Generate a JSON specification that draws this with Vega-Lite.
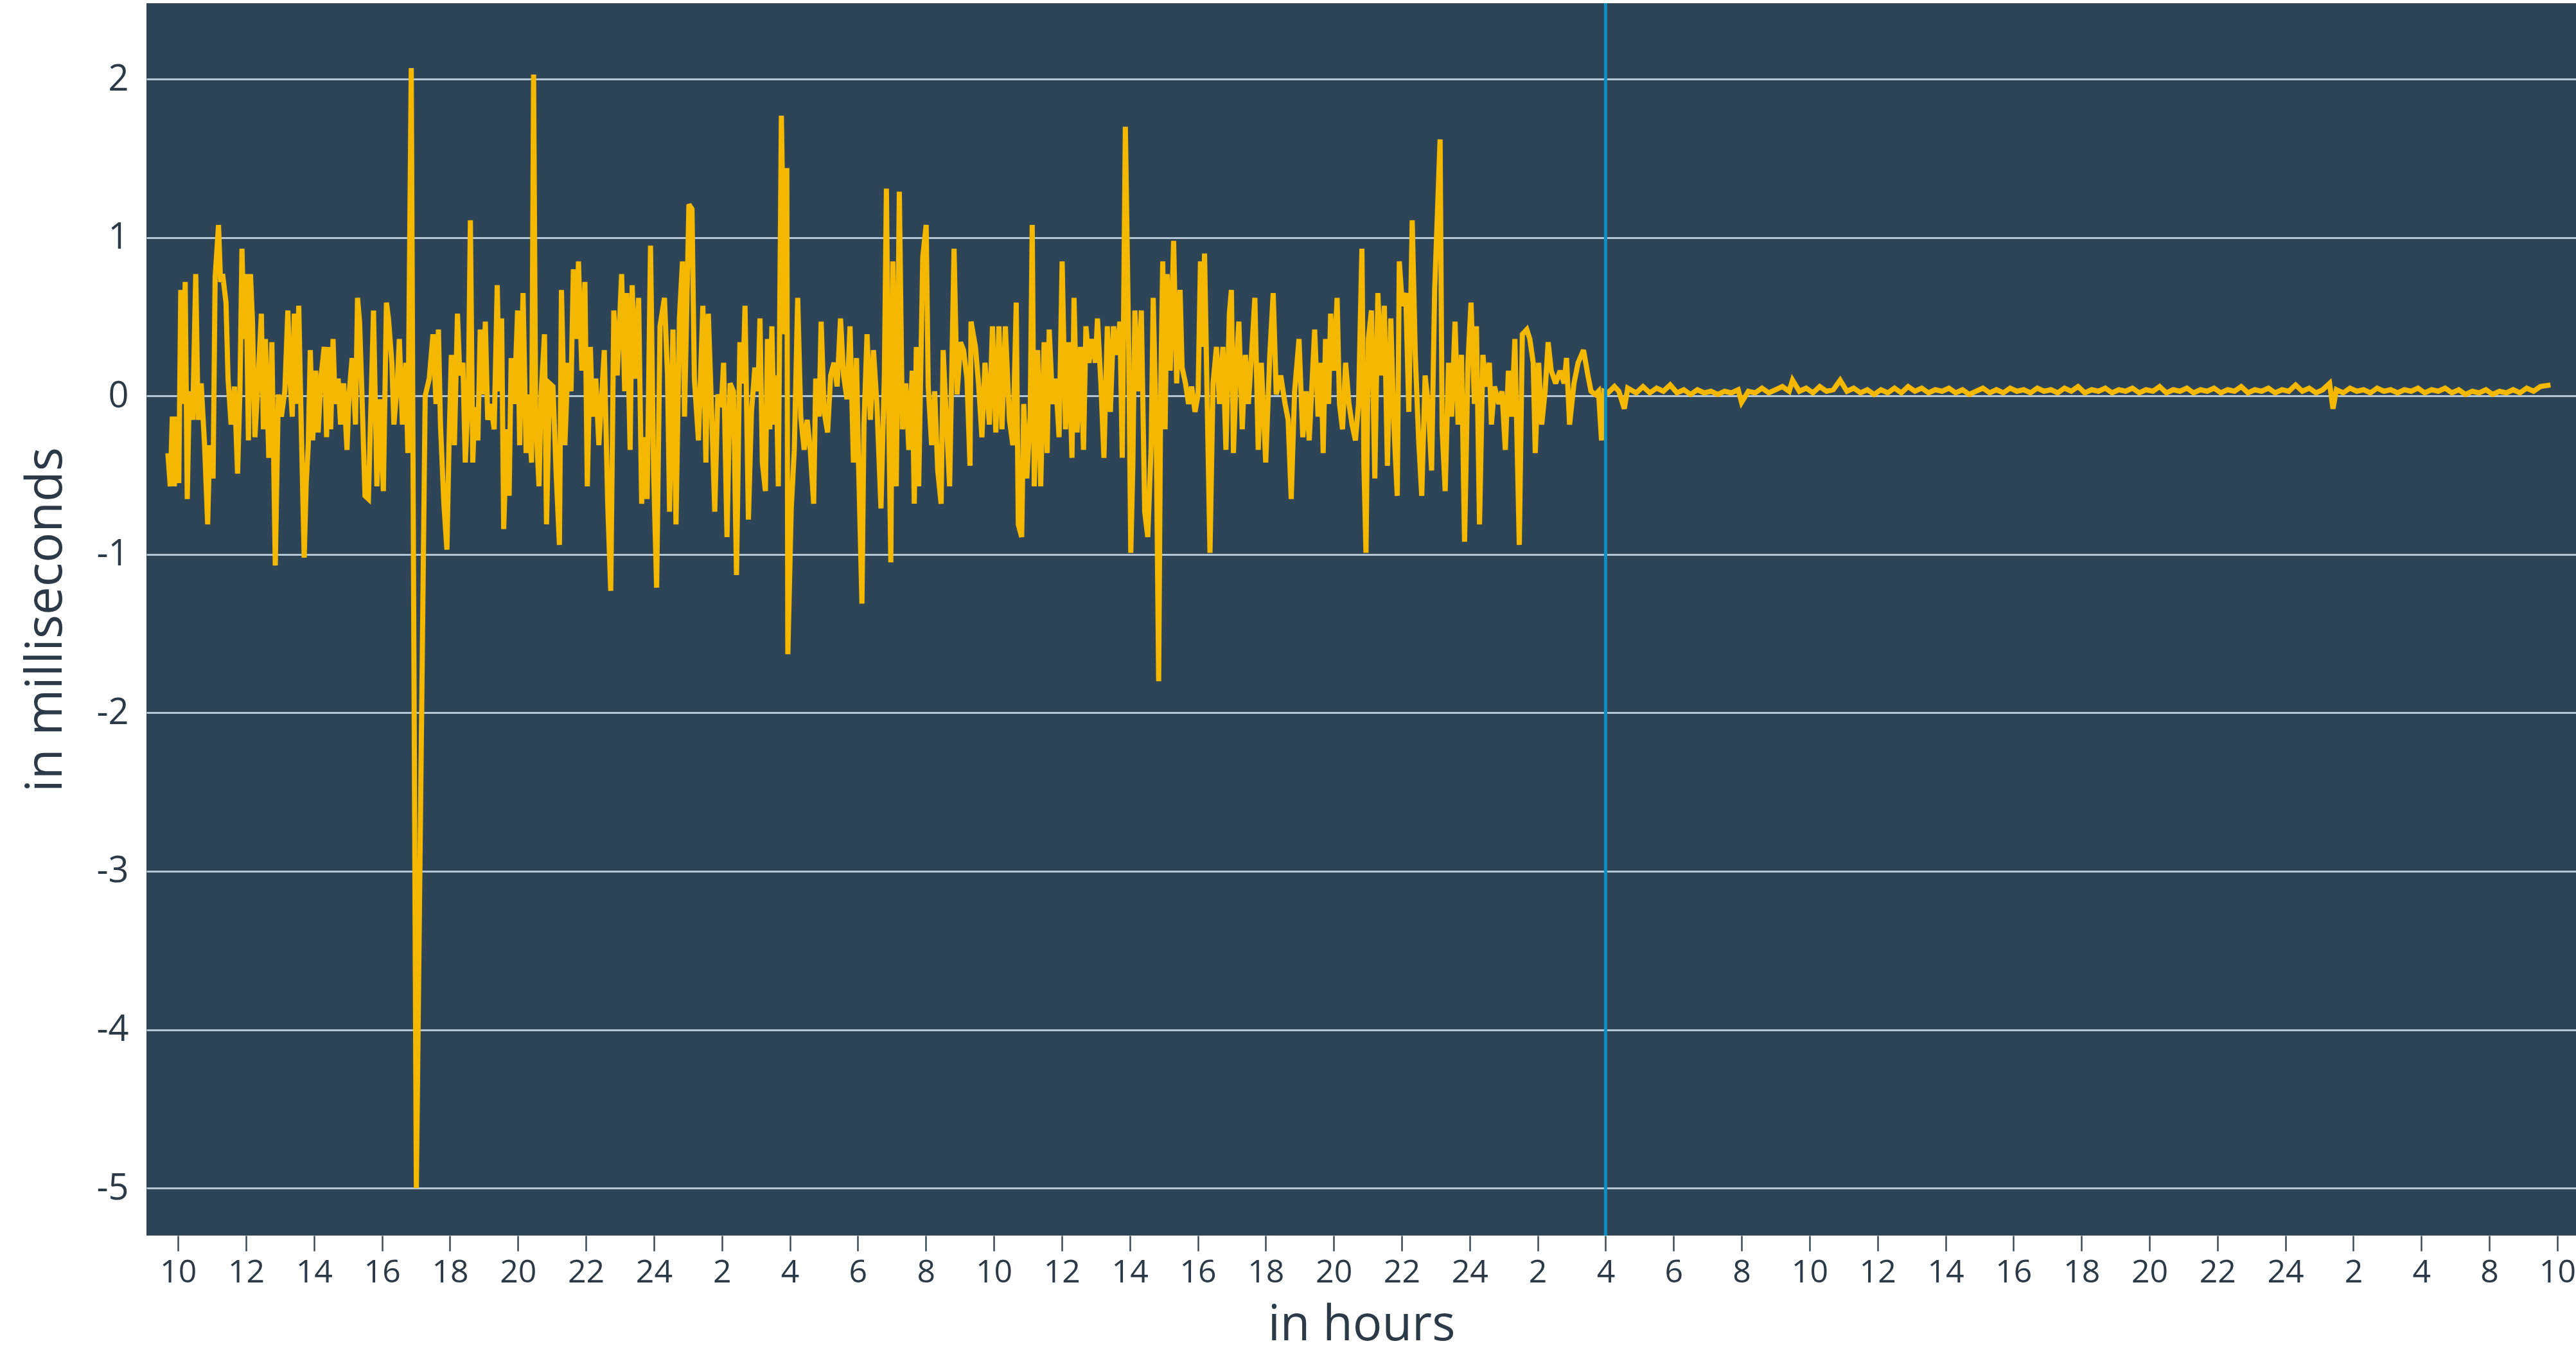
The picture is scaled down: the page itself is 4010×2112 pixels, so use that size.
{
"$schema": "https://vega.github.io/schema/vega-lite/v6.json",
"width": 3782,
"height": 1918,
"autosize": {"type": "none"},
"padding": {"left": 228, "top": 5, "right": 0, "bottom": 189},
"background": "white",
"config": {
"view": {"fill": "#2e4457", "stroke": null},
"font": "Open Sans",
"axis": {"labelColor": "#2c3a47", "titleColor": "#2c3a47", "titleFontWeight": "normal", "labelFont": "Open Sans", "titleFont": "Open Sans"}
},
"datasets": {
"series": [
{"h":-0.30,"v":-0.36},{"h":-0.23,"v":-0.57},{"h":-0.17,"v":-0.13},{"h":-0.11,"v":-0.57},{"h":-0.04,"v":-0.13},{"h":0.02,"v":-0.55},{"h":0.08,"v":0.67},{"h":0.15,"v":-0.05},{"h":0.21,"v":0.72},{"h":0.27,"v":-0.65},{"h":0.33,"v":0.03},{"h":0.43,"v":-0.15},{"h":0.52,"v":0.77},{"h":0.59,"v":-0.15},{"h":0.68,"v":0.08},{"h":0.78,"v":-0.31},{"h":0.87,"v":-0.81},{"h":0.93,"v":-0.31},{"h":1.03,"v":-0.52},{"h":1.09,"v":0.75},{"h":1.19,"v":1.08},{"h":1.25,"v":0.72},{"h":1.31,"v":0.77},{"h":1.41,"v":0.59},{"h":1.47,"v":0.11},{"h":1.56,"v":-0.18},{"h":1.66,"v":0.06},{"h":1.75,"v":-0.49},{"h":1.82,"v":0.03},{"h":1.88,"v":0.93},{"h":1.94,"v":0.36},{"h":2.00,"v":0.77},{"h":2.07,"v":-0.28},{"h":2.13,"v":0.77},{"h":2.19,"v":0.47},{"h":2.26,"v":-0.26},{"h":2.35,"v":0.08},{"h":2.45,"v":0.52},{"h":2.51,"v":-0.21},{"h":2.57,"v":0.36},{"h":2.67,"v":-0.39},{"h":2.76,"v":0.34},{"h":2.86,"v":-1.07},{"h":2.95,"v":0.01},{"h":3.04,"v":-0.13},{"h":3.14,"v":0.03},{"h":3.23,"v":0.54},{"h":3.30,"v":0.08},{"h":3.36,"v":-0.13},{"h":3.42,"v":0.52},{"h":3.49,"v":-0.05},{"h":3.55,"v":0.57},{"h":3.61,"v":-0.05},{"h":3.71,"v":-1.02},{"h":3.77,"v":-0.55},{"h":3.83,"v":-0.31},{"h":3.89,"v":0.29},{"h":3.96,"v":-0.28},{"h":4.05,"v":0.16},{"h":4.12,"v":-0.23},{"h":4.21,"v":0.13},{"h":4.30,"v":0.31},{"h":4.37,"v":-0.26},{"h":4.43,"v":0.31},{"h":4.49,"v":-0.21},{"h":4.56,"v":0.36},{"h":4.62,"v":-0.05},{"h":4.71,"v":0.11},{"h":4.78,"v":-0.18},{"h":4.87,"v":0.08},{"h":4.97,"v":-0.34},{"h":5.03,"v":0.01},{"h":5.12,"v":0.24},{"h":5.22,"v":-0.18},{"h":5.28,"v":0.62},{"h":5.34,"v":0.47},{"h":5.41,"v":0.01},{"h":5.50,"v":-0.63},{"h":5.60,"v":-0.65},{"h":5.69,"v":0.06},{"h":5.75,"v":0.54},{"h":5.85,"v":-0.57},{"h":5.94,"v":-0.02},{"h":6.04,"v":-0.60},{"h":6.13,"v":0.59},{"h":6.19,"v":0.49},{"h":6.29,"v":0.21},{"h":6.35,"v":-0.18},{"h":6.45,"v":0.08},{"h":6.51,"v":0.36},{"h":6.60,"v":-0.18},{"h":6.70,"v":0.21},{"h":6.76,"v":-0.36},{"h":6.86,"v":2.07},{"h":7.01,"v":-5.0},{"h":7.27,"v":0.0},{"h":7.39,"v":0.11},
{"h":7.50,"v":0.39},{"h":7.59,"v":-0.05},{"h":7.66,"v":0.42},{"h":7.72,"v":-0.18},{"h":7.82,"v":-0.68},{"h":7.91,"v":-0.97},{"h":7.97,"v":-0.31},{"h":8.04,"v":0.26},{"h":8.13,"v":-0.31},{"h":8.22,"v":0.52},{"h":8.29,"v":0.13},{"h":8.38,"v":0.21},{"h":8.45,"v":-0.42},{"h":8.54,"v":0.01},{"h":8.60,"v":1.11},{"h":8.67,"v":-0.42},{"h":8.73,"v":-0.07},{"h":8.82,"v":-0.28},{"h":8.89,"v":0.42},{"h":8.98,"v":0.01},{"h":9.04,"v":0.47},{"h":9.11,"v":-0.15},{"h":9.20,"v":-0.05},{"h":9.30,"v":-0.21},{"h":9.39,"v":0.70},{"h":9.45,"v":0.03},{"h":9.52,"v":0.49},{"h":9.58,"v":-0.84},{"h":9.67,"v":-0.21},{"h":9.74,"v":-0.63},{"h":9.80,"v":0.24},{"h":9.89,"v":-0.05},{"h":9.99,"v":0.54},{"h":10.05,"v":-0.31},{"h":10.15,"v":0.65},{"h":10.24,"v":-0.36},{"h":10.30,"v":0.01},{"h":10.40,"v":-0.42},{"h":10.46,"v":2.03},{"h":10.52,"v":-0.13},{"h":10.62,"v":-0.57},{"h":10.68,"v":0.01},{"h":10.78,"v":0.39},{"h":10.84,"v":-0.81},{"h":10.93,"v":0.08},{"h":11.03,"v":0.06},{"h":11.12,"v":-0.47},{"h":11.22,"v":-0.94},{"h":11.28,"v":0.67},{"h":11.38,"v":-0.31},{"h":11.47,"v":0.21},{"h":11.56,"v":0.03},{"h":11.63,"v":0.80},{"h":11.72,"v":0.36},{"h":11.78,"v":0.85},{"h":11.88,"v":0.16},{"h":11.97,"v":0.72},{"h":12.04,"v":-0.57},{"h":12.13,"v":0.31},{"h":12.19,"v":-0.13},{"h":12.29,"v":0.11},{"h":12.38,"v":-0.31},{"h":12.45,"v":-0.05},{"h":12.54,"v":0.29},{"h":12.64,"v":-0.68},{"h":12.73,"v":-1.23},{"h":12.82,"v":0.54},{"h":12.92,"v":0.13},{"h":13.05,"v":0.77},{"h":13.14,"v":0.03},{"h":13.20,"v":0.65},{"h":13.30,"v":-0.34},{"h":13.36,"v":0.70},{"h":13.45,"v":0.11},{"h":13.55,"v":0.62},{"h":13.64,"v":-0.68},{"h":13.71,"v":-0.26},{"h":13.80,"v":-0.65},{"h":13.90,"v":0.95},{"h":13.99,"v":-0.47},{"h":14.08,"v":-1.21},{"h":14.18,"v":0.44},{"h":14.31,"v":0.62},{"h":14.40,"v":0.13},{"h":14.46,"v":-0.73},{"h":14.56,"v":0.42},{"h":14.65,"v":-0.81},{"h":14.75,"v":0.49},{"h":14.84,"v":0.85},{"h":14.90,"v":-0.13},{"h":15.03,"v":1.21},{"h":15.12,"v":1.18},{"h":15.19,"v":0.11},{"h":15.31,"v":-0.28},{"h":15.44,"v":0.57},{"h":15.53,"v":-0.42},{"h":15.60,"v":0.52},{"h":15.69,"v":-0.05},{"h":15.79,"v":-0.73},{"h":15.88,"v":0.01},{"h":15.98,"v":-0.07},
{"h":16.05,"v":0.21},{"h":16.15,"v":-0.89},{"h":16.24,"v":0.08},{"h":16.34,"v":0.03},{"h":16.43,"v":-1.13},{"h":16.53,"v":0.34},{"h":16.62,"v":0.08},{"h":16.68,"v":0.57},{"h":16.78,"v":-0.78},{"h":16.87,"v":-0.10},{"h":16.97,"v":0.18},{"h":17.06,"v":0.03},{"h":17.12,"v":0.49},{"h":17.19,"v":-0.42},{"h":17.28,"v":-0.60},{"h":17.34,"v":0.36},{"h":17.41,"v":-0.21},{"h":17.47,"v":0.44},{"h":17.53,"v":-0.18},{"h":17.60,"v":0.13},{"h":17.66,"v":-0.57},{"h":17.75,"v":1.77},{"h":17.85,"v":0.39},{"h":17.91,"v":1.44},{"h":17.94,"v":-1.63},{"h":18.04,"v":-0.71},{"h":18.13,"v":-0.34},{"h":18.23,"v":0.62},{"h":18.32,"v":-0.13},{"h":18.42,"v":-0.34},{"h":18.51,"v":-0.15},{"h":18.60,"v":-0.34},{"h":18.70,"v":-0.68},{"h":18.76,"v":0.11},{"h":18.86,"v":-0.13},{"h":18.92,"v":0.47},{"h":19.01,"v":-0.10},{"h":19.11,"v":-0.23},{"h":19.20,"v":0.13},{"h":19.30,"v":0.21},{"h":19.39,"v":0.06},{"h":19.49,"v":0.49},{"h":19.58,"v":0.13},{"h":19.68,"v":-0.02},{"h":19.77,"v":0.44},{"h":19.87,"v":-0.42},{"h":19.96,"v":0.24},{"h":20.02,"v":-0.42},{"h":20.12,"v":-1.31},{"h":20.18,"v":-0.18},{"h":20.27,"v":0.39},{"h":20.37,"v":-0.15},{"h":20.46,"v":0.29},{"h":20.56,"v":-0.05},{"h":20.68,"v":-0.71},{"h":20.78,"v":0.13},{"h":20.84,"v":1.31},{"h":20.90,"v":0.01},{"h":20.97,"v":-1.05},{"h":21.03,"v":0.85},{"h":21.13,"v":-0.57},{"h":21.22,"v":1.29},{"h":21.31,"v":-0.21},{"h":21.41,"v":0.08},{"h":21.50,"v":-0.34},{"h":21.60,"v":0.16},{"h":21.66,"v":-0.68},{"h":21.72,"v":0.31},{"h":21.79,"v":-0.57},{"h":21.91,"v":0.88},{"h":22.01,"v":1.08},{"h":22.07,"v":0.06},{"h":22.17,"v":-0.31},{"h":22.26,"v":0.03},{"h":22.35,"v":-0.47},{"h":22.45,"v":-0.68},{"h":22.51,"v":0.29},{"h":22.61,"v":-0.18},{"h":22.70,"v":-0.57},{"h":22.83,"v":0.93},{"h":22.92,"v":0.01},{"h":23.02,"v":0.34},{"h":23.11,"v":0.29},{"h":23.21,"v":0.11},{"h":23.30,"v":-0.44},{"h":23.33,"v":0.47},{"h":23.46,"v":0.31},{"h":23.55,"v":0.08},{"h":23.65,"v":-0.26},{"h":23.74,"v":0.21},{"h":23.87,"v":-0.18},{"h":23.96,"v":0.44},{"h":24.06,"v":-0.23},{"h":24.15,"v":0.44},{"h":24.24,"v":-0.21},{"h":24.34,"v":0.44},{"h":24.46,"v":-0.15},
{"h":24.56,"v":-0.31},{"h":24.66,"v":0.59},{"h":24.72,"v":-0.81},{"h":24.82,"v":-0.89},{"h":24.88,"v":-0.05},{"h":24.97,"v":-0.52},{"h":25.07,"v":-0.13},{"h":25.13,"v":1.08},{"h":25.19,"v":-0.57},{"h":25.29,"v":0.29},{"h":25.38,"v":-0.57},{"h":25.48,"v":0.34},{"h":25.57,"v":-0.36},{"h":25.63,"v":0.42},{"h":25.73,"v":-0.05},{"h":25.82,"v":0.11},{"h":25.92,"v":-0.26},{"h":26.01,"v":0.85},{"h":26.11,"v":-0.21},{"h":26.20,"v":0.34},{"h":26.30,"v":-0.39},{"h":26.36,"v":0.62},{"h":26.45,"v":-0.23},{"h":26.55,"v":0.31},{"h":26.64,"v":-0.34},{"h":26.71,"v":0.44},{"h":26.80,"v":0.21},{"h":26.89,"v":0.36},{"h":26.99,"v":0.21},{"h":27.05,"v":0.49},{"h":27.15,"v":0.08},{"h":27.24,"v":-0.39},{"h":27.34,"v":0.44},{"h":27.43,"v":-0.10},{"h":27.52,"v":0.44},{"h":27.62,"v":0.26},{"h":27.71,"v":0.47},{"h":27.78,"v":-0.39},{"h":27.87,"v":1.70},{"h":27.97,"v":0.29},{"h":28.03,"v":-0.99},{"h":28.09,"v":-0.44},{"h":28.15,"v":0.54},{"h":28.25,"v":0.03},{"h":28.34,"v":0.54},{"h":28.44,"v":-0.73},{"h":28.53,"v":-0.89},{"h":28.63,"v":-0.31},{"h":28.69,"v":0.62},{"h":28.78,"v":-0.26},{"h":28.85,"v":-1.80},{"h":28.91,"v":0.03},{"h":28.97,"v":0.85},{"h":29.04,"v":-0.21},{"h":29.10,"v":0.77},{"h":29.19,"v":0.16},{"h":29.29,"v":0.98},{"h":29.38,"v":0.08},{"h":29.48,"v":0.67},{"h":29.54,"v":0.18},{"h":29.64,"v":0.08},{"h":29.73,"v":-0.05},{"h":29.82,"v":0.06},{"h":29.92,"v":-0.10},{"h":30.01,"v":0.01},{"h":30.08,"v":0.85},{"h":30.14,"v":0.31},{"h":30.20,"v":0.90},{"h":30.27,"v":0.06},{"h":30.36,"v":-0.99},{"h":30.45,"v":0.08},{"h":30.55,"v":0.31},{"h":30.64,"v":-0.05},{"h":30.74,"v":0.31},{"h":30.83,"v":-0.34},{"h":30.93,"v":0.52},{"h":30.99,"v":0.67},{"h":31.05,"v":-0.36},{"h":31.15,"v":0.26},{"h":31.21,"v":0.47},{"h":31.31,"v":-0.21},{"h":31.40,"v":0.26},{"h":31.49,"v":-0.05},{"h":31.59,"v":0.29},{"h":31.68,"v":0.62},{"h":31.78,"v":-0.34},{"h":31.87,"v":0.21},{"h":32.00,"v":-0.42},{"h":32.12,"v":0.26},{"h":32.22,"v":0.65},{"h":32.31,"v":0.01},{"h":32.44,"v":0.13},{"h":32.57,"v":-0.05},{"h":32.66,"v":-0.15},{"h":32.75,"v":-0.65},{"h":32.85,"v":0.03},{"h":32.98,"v":0.36},
{"h":33.09,"v":-0.26},{"h":33.19,"v":0.03},{"h":33.28,"v":-0.28},{"h":33.44,"v":0.42},{"h":33.54,"v":-0.13},{"h":33.63,"v":0.21},{"h":33.69,"v":-0.36},{"h":33.76,"v":0.36},{"h":33.85,"v":-0.05},{"h":33.91,"v":0.52},{"h":34.01,"v":0.16},{"h":34.10,"v":0.62},{"h":34.17,"v":-0.05},{"h":34.26,"v":-0.21},{"h":34.35,"v":0.21},{"h":34.45,"v":-0.05},{"h":34.54,"v":-0.18},{"h":34.64,"v":-0.28},{"h":34.73,"v":-0.05},{"h":34.83,"v":0.93},{"h":34.89,"v":-0.44},{"h":34.95,"v":-0.99},{"h":35.02,"v":0.36},{"h":35.11,"v":0.54},{"h":35.21,"v":-0.52},{"h":35.30,"v":0.65},{"h":35.39,"v":0.13},{"h":35.49,"v":0.57},{"h":35.58,"v":-0.44},{"h":35.68,"v":0.49},{"h":35.77,"v":-0.18},{"h":35.87,"v":-0.63},{"h":35.93,"v":0.85},{"h":36.02,"v":0.57},{"h":36.12,"v":0.65},{"h":36.21,"v":-0.10},{"h":36.31,"v":1.11},{"h":36.40,"v":0.26},{"h":36.50,"v":-0.28},{"h":36.59,"v":-0.63},{"h":36.69,"v":0.13},{"h":36.78,"v":-0.05},{"h":36.88,"v":-0.47},{"h":36.97,"v":0.67},{"h":37.13,"v":1.62},{"h":37.19,"v":-0.21},{"h":37.28,"v":-0.60},{"h":37.38,"v":0.21},{"h":37.47,"v":-0.13},{"h":37.57,"v":0.47},{"h":37.66,"v":-0.18},{"h":37.76,"v":0.26},{"h":37.85,"v":-0.92},{"h":37.95,"v":0.21},{"h":38.04,"v":0.59},{"h":38.14,"v":-0.05},{"h":38.20,"v":0.44},{"h":38.29,"v":-0.81},{"h":38.39,"v":0.26},{"h":38.48,"v":0.06},{"h":38.58,"v":0.21},{"h":38.64,"v":-0.18},{"h":38.73,"v":0.06},{"h":38.86,"v":-0.05},{"h":38.95,"v":0.03},{"h":39.05,"v":-0.34},{"h":39.14,"v":0.16},{"h":39.24,"v":-0.13},{"h":39.33,"v":0.36},{"h":39.46,"v":-0.94},{"h":39.55,"v":0.39},{"h":39.68,"v":0.42},{"h":39.77,"v":0.36},{"h":39.87,"v":0.21},{"h":39.93,"v":-0.36},{"h":40.03,"v":0.21},{"h":40.12,"v":-0.18},{"h":40.22,"v":0.03},{"h":40.31,"v":0.34},{"h":40.40,"v":0.16},{"h":40.53,"v":0.08},{"h":40.66,"v":0.16},{"h":40.78,"v":0.08},{"h":40.85,"v":0.24},{"h":40.94,"v":-0.18},{"h":41.07,"v":0.08},{"h":41.19,"v":0.21},{"h":41.35,"v":0.29},{"h":41.48,"v":0.13},{"h":41.57,"v":0.03},{"h":41.70,"v":0.01},{"h":41.79,"v":0.03},{"h":41.88,"v":-0.28},{"h":41.95,"v":0.03},{"h":42.07,"v":0.02},{"h":42.26,"v":0.06},{"h":42.39,"v":0.03},
{"h":42.55,"v":-0.08},{"h":42.65,"v":0.05},{"h":42.9,"v":0.02},{"h":43.1,"v":0.06},{"h":43.3,"v":0.02},{"h":43.5,"v":0.05},{"h":43.7,"v":0.03},{"h":43.9,"v":0.07},{"h":44.1,"v":0.02},{"h":44.3,"v":0.04},{"h":44.5,"v":0.01},{"h":44.7,"v":0.04},{"h":44.9,"v":0.02},{"h":45.1,"v":0.03},{"h":45.3,"v":0.01},{"h":45.5,"v":0.03},{"h":45.7,"v":0.02},{"h":45.9,"v":0.04},{"h":46.0,"v":-0.04},{"h":46.2,"v":0.03},{"h":46.4,"v":0.02},{"h":46.6,"v":0.05},{"h":46.8,"v":0.02},{"h":47.0,"v":0.04},{"h":47.2,"v":0.06},{"h":47.4,"v":0.03},{"h":47.5,"v":0.10},{"h":47.7,"v":0.03},{"h":47.9,"v":0.05},{"h":48.1,"v":0.02},{"h":48.3,"v":0.06},{"h":48.5,"v":0.03},{"h":48.7,"v":0.04},{"h":48.9,"v":0.10},{"h":49.1,"v":0.03},{"h":49.3,"v":0.05},{"h":49.5,"v":0.02},{"h":49.7,"v":0.04},{"h":49.9,"v":0.01},{"h":50.1,"v":0.04},{"h":50.3,"v":0.02},{"h":50.5,"v":0.05},{"h":50.7,"v":0.02},{"h":50.9,"v":0.06},{"h":51.1,"v":0.03},{"h":51.3,"v":0.05},{"h":51.5,"v":0.02},{"h":51.7,"v":0.04},{"h":51.9,"v":0.03},{"h":52.1,"v":0.05},{"h":52.3,"v":0.02},{"h":52.5,"v":0.04},{"h":52.7,"v":0.01},{"h":52.9,"v":0.03},{"h":53.1,"v":0.05},{"h":53.3,"v":0.02},{"h":53.5,"v":0.04},{"h":53.7,"v":0.02},{"h":53.9,"v":0.05},{"h":54.1,"v":0.03},{"h":54.3,"v":0.04},{"h":54.5,"v":0.02},{"h":54.7,"v":0.05},{"h":54.9,"v":0.03},{"h":55.1,"v":0.04},{"h":55.3,"v":0.02},{"h":55.5,"v":0.05},{"h":55.7,"v":0.03},{"h":55.9,"v":0.06},{"h":56.1,"v":0.02},{"h":56.3,"v":0.04},{"h":56.5,"v":0.03},{"h":56.7,"v":0.05},{"h":56.9,"v":0.02},{"h":57.1,"v":0.04},{"h":57.3,"v":0.03},{"h":57.5,"v":0.05},{"h":57.7,"v":0.02},{"h":57.9,"v":0.04},{"h":58.1,"v":0.03},{"h":58.3,"v":0.06},{"h":58.5,"v":0.02},{"h":58.7,"v":0.04},{"h":58.9,"v":0.03},{"h":59.1,"v":0.05},{"h":59.3,"v":0.02},{"h":59.5,"v":0.04},{"h":59.7,"v":0.03},{"h":59.9,"v":0.05},{"h":60.1,"v":0.02},{"h":60.3,"v":0.04},{"h":60.5,"v":0.03},{"h":60.7,"v":0.06},{"h":60.9,"v":0.02},{"h":61.1,"v":0.04},{"h":61.3,"v":0.03},{"h":61.5,"v":0.05},{"h":61.7,"v":0.02},{"h":61.9,"v":0.04},{"h":62.1,"v":0.03},{"h":62.3,"v":0.07},{"h":62.5,"v":0.03},{"h":62.7,"v":0.05},{"h":62.9,"v":0.02},{"h":63.1,"v":0.04},{"h":63.3,"v":0.08},{"h":63.4,"v":-0.08},{"h":63.5,"v":0.04},{"h":63.7,"v":0.02},{"h":63.9,"v":0.05},{"h":64.1,"v":0.03},{"h":64.3,"v":0.04},{"h":64.5,"v":0.02},{"h":64.7,"v":0.05},{"h":64.9,"v":0.03},{"h":65.1,"v":0.04},{"h":65.3,"v":0.02},{"h":65.5,"v":0.04},{"h":65.7,"v":0.03},{"h":65.9,"v":0.05},{"h":66.1,"v":0.02},{"h":66.3,"v":0.04},{"h":66.5,"v":0.03},{"h":66.7,"v":0.05},{"h":66.9,"v":0.02},{"h":67.1,"v":0.04},{"h":67.3,"v":0.01},{"h":67.5,"v":0.03},{"h":67.7,"v":0.02},{"h":67.9,"v":0.04},{"h":68.1,"v":0.01},{"h":68.3,"v":0.03},{"h":68.5,"v":0.02},{"h":68.7,"v":0.04},{"h":68.9,"v":0.02},{"h":69.1,"v":0.05},{"h":69.3,"v":0.03},{"h":69.5,"v":0.06},{"h":69.8,"v":0.07}
],
"marker": [{"h": 42}]
},
"layer": [
{
"data": {"name": "series"},
"mark": {"type": "line", "color": "#f5b800", "strokeWidth": 8, "strokeJoin": "miter", "strokeMiterLimit": 3},
"encoding": {
"x": {"field": "h", "type": "quantitative", "sort": null,
"scale": {"domain": [-0.93, 70.55], "nice": false, "zero": false},
"axis": {"values": [0,2,4,6,8,10,12,14,16,18,20,22,24,26,28,30,32,34,36,38,40,42,44,46,48,50,52,54,56,58,60,62,64,66,68,70],
"labelExpr": "['10','12','14','16','18','20','22','24','2','4','6','8','10','12','14','16','18','20','22','24','2','4','6','8','10','12','14','16','18','20','22','24','2','4','8','10'][round(datum.value/2)]",
"grid": false, "domain": false, "ticks": true, "tickSize": 24, "tickWidth": 2.5, "tickColor": "#3d4a55",
"labelFontSize": 50, "labelPadding": 8, "labelFlush": false, "labelOverlap": false,
"title": "in hours", "titleFontSize": 76, "titlePadding": 20}},
"y": {"field": "v", "type": "quantitative",
"scale": {"domain": [-5.30, 2.48], "nice": false, "zero": false},
"axis": {"values": [-5,-4,-3,-2,-1,0,1,2], "labelExpr": "'' + datum.value", "grid": true, "gridColor": "#b4c6d4", "gridWidth": 3,
"ticks": false, "domain": false, "labelFontSize": 56, "labelPadding": 28,
"title": "in milliseconds", "titleFontSize": 78, "titlePadding": 38}}
}
},
{
"data": {"name": "marker"},
"mark": {"type": "rule", "color": "#0e8ec4", "strokeWidth": 5},
"encoding": {"x": {"field": "h", "type": "quantitative"}}
}
]
}
